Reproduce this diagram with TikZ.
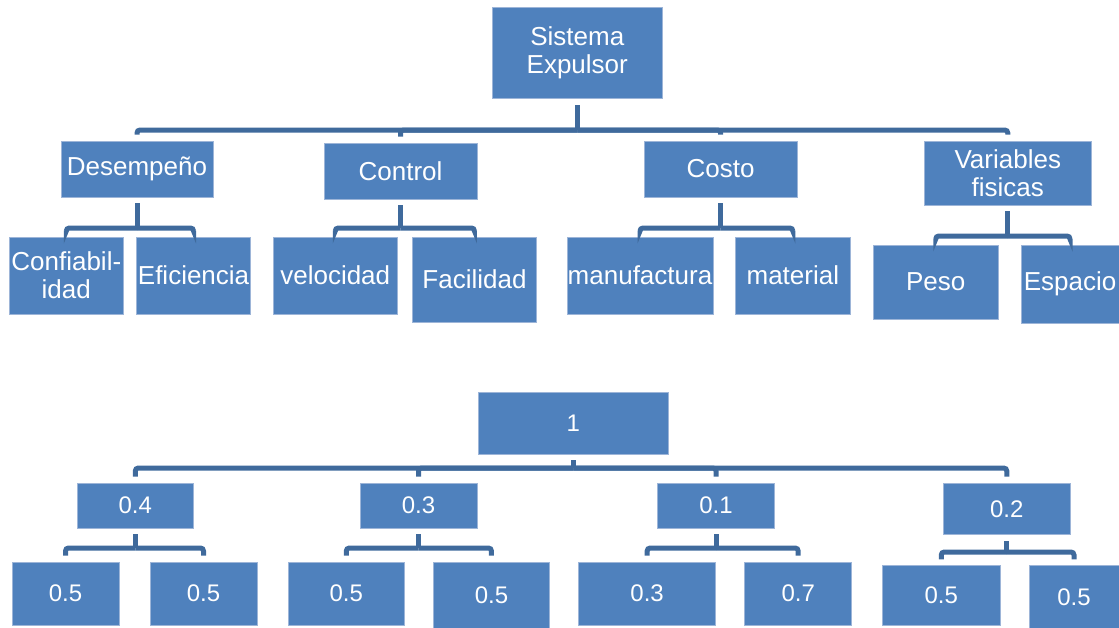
\documentclass[tikz,border=0pt]{standalone}
\usepackage{fontspec}
\setmainfont{Liberation Sans}
\definecolor{boxblue}{HTML}{4F81BD}
\definecolor{boxedge}{HTML}{9DB5D8}
\definecolor{linkblue}{HTML}{3F6A9C}
\tikzset{
  box/.style={fill=boxblue, draw=boxedge, line width=0.8pt, inner sep=0pt,
    text=white, align=center},
  big/.style={font=\fontsize{26}{28}\selectfont},
  small/.style={font=\fontsize{24}{28}\selectfont},
  conn/.style={draw=linkblue, line width=5pt, rounded corners=3pt}
}
% box from two corners (pixel units, y downwards)
\newcommand\kbox[7]{\node[box,#7, minimum width={(#4-#2)*1pt}, minimum height={(#5-#3)*1pt}]
  (#1) at ({(#2+#4)/2},{(#3+#5)/2}) {#6};}
% parent, bus height, list of children
\newcommand\branch[3]{%
  \draw[conn] ([yshift=-6pt]#1.south) -- (#1.south |- 0,#2);
  \foreach \c in {#3}{\draw[conn] (#1.south |- 0,#2) -| ([yshift=6pt]\c.north);}
}
\begin{document}
\begin{tikzpicture}[x=1pt,y=-1pt]
\useasboundingbox (0,0) rectangle (1119,627);

% upper tree: criteria
\kbox{root}{492.5}{7.3}{662}{98.7}{Sistema\\Expulsor}{big}
\kbox{des}{61}{141}{213}{197}{Desempeño}{big}
\kbox{ctl}{324}{143}{477}{199}{Control}{big}
\kbox{cst}{644}{141}{797}{197}{Costo}{big}
\kbox{var}{924.6}{141}{1091}{205}{Variables\\fisicas}{big}
\kbox{conf}{9}{237}{123.6}{314}{Confiabil-\\idad}{big}
\kbox{efi}{136.4}{237}{250.7}{314}{Eficiencia}{big}
\kbox{vel}{273}{237}{397.5}{314}{velocidad}{big}
\kbox{fac}{412.5}{237}{536.4}{322}{Facilidad}{big}
\kbox{man}{567}{237}{713}{314}{manufactura}{big}
\kbox{mat}{735.7}{237}{850}{314}{material}{big}
\kbox{pes}{872.9}{245}{998.6}{319}{Peso}{big}
\kbox{esp}{1021}{245}{1119}{323}{Espacio}{big}

\branch{root}{130}{des,ctl,cst,var}
\branch{des}{228}{conf,efi}
\branch{ctl}{228}{vel,fac}
\branch{cst}{228}{man,mat}
\branch{var}{236}{pes,esp}

% lower tree: weights
\kbox{r1}{478.6}{392.7}{668}{454}{1}{small}
\kbox{w1}{77}{483}{193.6}{528}{0.4}{small}
\kbox{w2}{360}{483}{477}{528}{0.3}{small}
\kbox{w3}{657.5}{483}{774.6}{528}{0.1}{small}
\kbox{w4}{942.9}{483}{1070.7}{534.7}{0.2}{small}
\kbox{a1}{12}{562}{119}{625}{0.5}{small}
\kbox{a2}{150}{562}{257}{625}{0.5}{small}
\kbox{b1}{288}{562}{404.6}{625}{0.5}{small}
\kbox{b2}{433.6}{562}{549.3}{629}{0.5}{small}
\kbox{c1}{578.6}{562}{715.7}{625}{0.3}{small}
\kbox{c2}{744.6}{562}{851.8}{625}{0.7}{small}
\kbox{d1}{882.5}{565.7}{1000}{625}{0.5}{small}
\kbox{d2}{1029}{565.7}{1119}{629}{0.5}{small}

\branch{r1}{468}{w1,w2,w3,w4}
\branch{w1}{548}{a1,a2}
\branch{w2}{548}{b1,b2}
\branch{w3}{548}{c1,c2}
\branch{w4}{552}{d1,d2}
\end{tikzpicture}
\end{document}
